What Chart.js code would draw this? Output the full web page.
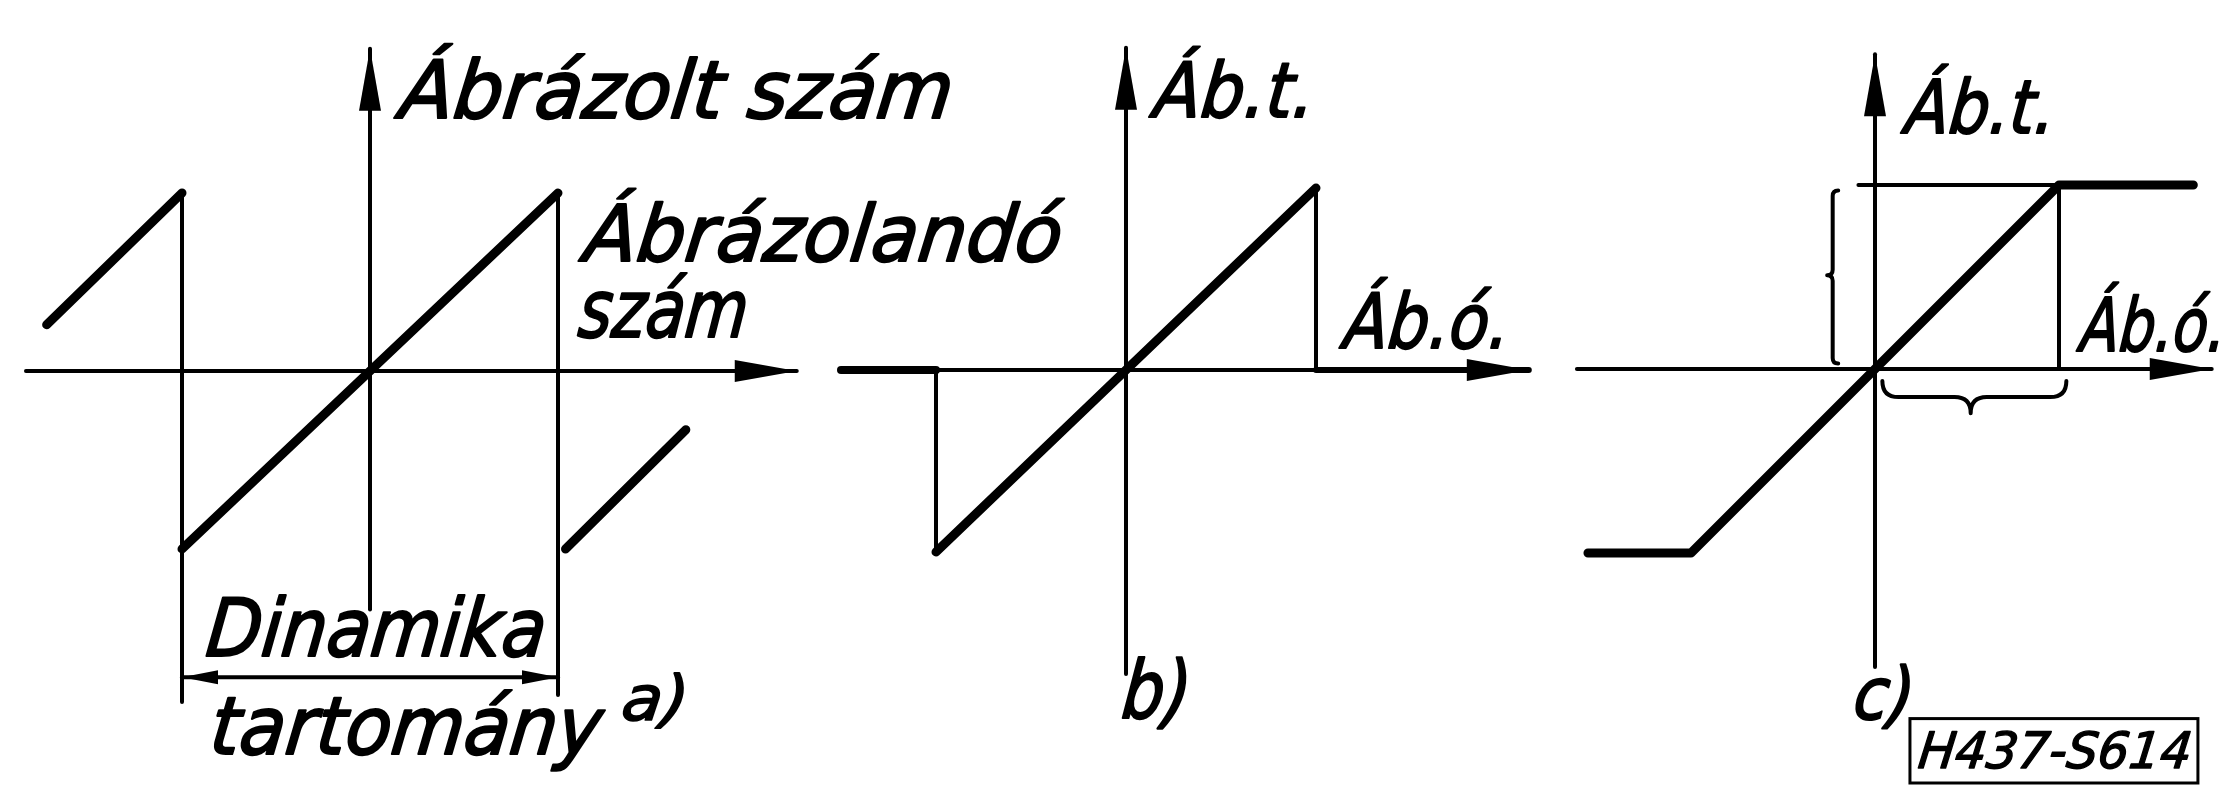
<!DOCTYPE html>
<html>
<head>
<meta charset="utf-8">
<title>Ábrázolt szám</title>
<script src="https://cdn.jsdelivr.net/npm/chart.js@4/dist/chart.umd.min.js"></script>
<style>
  body { margin: 0; background: #fff; }
  #sheet { position: relative; width: 2229px; height: 787px; overflow: hidden; background: #fff; }
  #sheet canvas { position: absolute; top: 0; }
</style>
</head>
<body>
<div id="sheet">
  <canvas id="panelA" width="1080" height="787" style="left:0px"></canvas>
  <canvas id="panelB" width="770" height="787" style="left:790px"></canvas>
  <canvas id="panelC" width="669" height="787" style="left:1560px"></canvas>
</div>
<script>
// ---- a) wrap-around (sawtooth) characteristic ----
const aAxisX = [{ x: -1.83, y: 0 }, { x: 2.27, y: 0 }];
const aAxisY = [{ x: 0, y: -1.34 }, { x: 0, y: 1.81 }];
const aWrapLeft = [{ x: -1.72, y: 0.26 }, { x: -1, y: 1 }];
const aRamp = [{ x: -1, y: -1 }, { x: 1, y: 1 }];
const aWrapRight = [{ x: 1.04, y: -1 }, { x: 1.68, y: -0.33 }];
const aEdgeLeft = [{ x: -1, y: 1 }, { x: -1, y: -1.86 }];
const aEdgeRight = [{ x: 1, y: 1 }, { x: 1, y: -1.82 }];
const aRange = [{ x: -1, y: -1.72 }, { x: 1, y: -1.72 }];
const aTexts = ['Ábrázolt szám', 'Ábrázolandó', 'szám', 'Dinamika', 'tartomány', 'a)'];

// ---- b) overflow falls back to zero ----
const bAxisX = [{ x: -1.5, y: 0 }, { x: 2.12, y: 0 }];
const bAxisY = [{ x: 0, y: -1.67 }, { x: 0, y: 1.77 }];
const bFlatLeft = [{ x: -1.5, y: 0 }, { x: -1, y: 0 }];
const bDrop = [{ x: -1, y: 0 }, { x: -1, y: -1 }];
const bRamp = [{ x: -1, y: -1 }, { x: 1, y: 1 }];
const bRise = [{ x: 1, y: 1 }, { x: 1, y: 0 }];
const bFlatRight = [{ x: 1, y: 0 }, { x: 2.12, y: 0 }];
const bTexts = ['Áb.t.', 'Áb.ó.', 'b)'];

// ---- c) saturating characteristic ----
const cAxisX = [{ x: -1.62, y: 0 }, { x: 1.83, y: 0 }];
const cAxisY = [{ x: 0, y: -1.62 }, { x: 0, y: 1.71 }];
const cClip = [{ x: -1.56, y: -1 }, { x: -1, y: -1 }, { x: 1, y: 1 }, { x: 1.73, y: 1 }];
const cGuideTop = [{ x: -0.09, y: 1 }, { x: 1, y: 1 }];
const cGuideRight = [{ x: 1, y: 1 }, { x: 1, y: 0 }];
const cBraceY = [{ x: -0.2, y: 0.03 }, { x: -0.2, y: 0.97 }, { x: -0.26, y: 0.51 }];
const cBraceX = [{ x: 0.04, y: -0.065 }, { x: 1.04, y: -0.065 }, { x: 0.52, y: -0.24 }];
const cTexts = ['Áb.t.', 'Áb.ó.', 'c)', 'H437-S614'];

const INK = '#000';
const FONT = '"DejaVu Sans", sans-serif';
const AXIS_HEAD = [62, 11];
const DIM_HEAD = [36, 7];
const SLANT = 0.12;

function seg(data, width, extra) {
  return Object.assign({
    data: data,
    showLine: true,
    borderColor: INK,
    backgroundColor: INK,
    borderWidth: width,
    pointRadius: 0,
    borderCapStyle: 'round',
    borderJoinStyle: 'round',
    fill: false,
    tension: 0,
    clip: false
  }, extra || {});
}

function head(ctx, from, to, size) {
  const ang = Math.atan2(to.y - from.y, to.x - from.x);
  ctx.save();
  ctx.translate(to.x, to.y);
  ctx.rotate(ang);
  ctx.beginPath();
  ctx.moveTo(0, 0);
  ctx.lineTo(-size[0], -size[1]);
  ctx.lineTo(-size[0], size[1]);
  ctx.closePath();
  ctx.fillStyle = INK;
  ctx.fill();
  ctx.restore();
}

// filled arrowheads on datasets flagged with arrowEnd / arrowStart
const arrowPlugin = {
  id: 'arrowHeads',
  afterDatasetsDraw(chart) {
    const ctx = chart.ctx;
    chart.data.datasets.forEach((ds, i) => {
      const pts = chart.getDatasetMeta(i).data;
      const n = pts.length;
      if (ds.arrowEnd) head(ctx, pts[n - 2], pts[n - 1], ds.arrowSize || AXIS_HEAD);
      if (ds.arrowStart) head(ctx, pts[1], pts[0], ds.arrowSize || AXIS_HEAD);
    });
  }
};

// curly brace between two points, cusp towards the third point
function brace(ctx, chart, pts) {
  const sx = chart.scales.x, sy = chart.scales.y;
  const A = { x: sx.getPixelForValue(pts[0].x), y: sy.getPixelForValue(pts[0].y) };
  const B = { x: sx.getPixelForValue(pts[1].x), y: sy.getPixelForValue(pts[1].y) };
  const T = { x: sx.getPixelForValue(pts[2].x), y: sy.getPixelForValue(pts[2].y) };
  const len = Math.hypot(B.x - A.x, B.y - A.y);
  const u = { x: (B.x - A.x) / len, y: (B.y - A.y) / len };
  let nrm = { x: -u.y, y: u.x };
  const tA = (T.x - A.x) * u.x + (T.y - A.y) * u.y;
  let depth = (T.x - A.x) * nrm.x + (T.y - A.y) * nrm.y;
  if (depth < 0) { nrm = { x: -nrm.x, y: -nrm.y }; depth = -depth; }
  const h = depth / 2;
  const P = (base, a, b) => ({ x: base.x + u.x * a + nrm.x * b, y: base.y + u.y * a + nrm.y * b });
  const M = P(A, tA, 0);
  ctx.save();
  ctx.strokeStyle = INK;
  ctx.lineWidth = 4;
  ctx.lineJoin = 'round';
  ctx.lineCap = 'round';
  ctx.beginPath();
  ctx.moveTo(A.x, A.y);
  let c = P(A, 0, h), e = P(A, h, h);
  ctx.quadraticCurveTo(c.x, c.y, e.x, e.y);
  e = P(M, -h, h); ctx.lineTo(e.x, e.y);
  c = P(M, 0, h); e = P(M, 0, depth);
  ctx.quadraticCurveTo(c.x, c.y, e.x, e.y);
  e = P(M, h, h);
  ctx.quadraticCurveTo(c.x, c.y, e.x, e.y);
  e = P(B, -h, h); ctx.lineTo(e.x, e.y);
  c = P(B, 0, h);
  ctx.quadraticCurveTo(c.x, c.y, B.x, B.y);
  ctx.stroke();
  ctx.restore();
}

// hand-lettered captions, placed in chart units, stretched to a set width
function captionPlugin(texts, spots, braces, stamp) {
  return {
    id: 'captions',
    afterDatasetsDraw(chart) {
      const ctx = chart.ctx;
      const sx = chart.scales.x, sy = chart.scales.y;
      (braces || []).forEach(b => brace(ctx, chart, b));
      if (stamp) {
        const x0 = sx.getPixelForValue(stamp.x0), x1 = sx.getPixelForValue(stamp.x1);
        const y0 = sy.getPixelForValue(stamp.y0), y1 = sy.getPixelForValue(stamp.y1);
        ctx.save();
        ctx.strokeStyle = INK;
        ctx.lineWidth = 3;
        ctx.strokeRect(x0, y0, x1 - x0, y1 - y0);
        ctx.restore();
      }
      texts.forEach((t, i) => {
        const s = spots[i];
        ctx.save();
        ctx.font = 'italic ' + s.size + 'px ' + FONT;
        ctx.fillStyle = INK;
        ctx.strokeStyle = INK;
        ctx.lineJoin = 'round';
        ctx.lineWidth = s.size / 36;
        ctx.textBaseline = 'alphabetic';
        ctx.textAlign = 'left';
        const m = ctx.measureText(t).width;
        ctx.translate(sx.getPixelForValue(s.x), sy.getPixelForValue(s.y));
        ctx.scale(s.w / m, 1);
        ctx.transform(1, 0, -SLANT, 1, 0, 0);
        ctx.fillText(t, 0, 0);
        ctx.strokeText(t, 0, 0);
        ctx.restore();
      });
    }
  };
}

function scalesFor(p) {
  return {
    x: { type: 'linear', display: false, min: -p.originX / p.unitX, max: (p.width - p.originX) / p.unitX },
    y: { type: 'linear', display: false, min: -(787 - p.originY) / p.unitY, max: p.originY / p.unitY }
  };
}

function panel(id, frame, datasets, plugin) {
  return new Chart(document.getElementById(id), {
    type: 'scatter',
    data: { datasets: datasets },
    options: {
      responsive: false,
      animation: false,
      events: [],
      layout: { padding: 0 },
      plugins: { legend: { display: false }, tooltip: { enabled: false } },
      scales: scalesFor(frame)
    },
    plugins: [arrowPlugin, plugin]
  });
}

const frameA = { width: 1080, originX: 370, originY: 371, unitX: 188, unitY: 178 };
const frameB = { width: 770, originX: 336, originY: 370, unitX: 190, unitY: 182 };
const frameC = { width: 669, originX: 315, originY: 369, unitX: 184, unitY: 184 };

panel('panelA', frameA, [
  seg(aAxisX, 4, { arrowEnd: true }),
  seg(aAxisY, 4, { arrowEnd: true }),
  seg(aEdgeLeft, 4),
  seg(aEdgeRight, 4),
  seg(aRange, 4, { arrowEnd: true, arrowStart: true, arrowSize: DIM_HEAD }),
  seg(aWrapLeft, 9),
  seg(aRamp, 9),
  seg(aWrapRight, 9)
], captionPlugin(aTexts, [
  { x: 0.15, y: 1.42, size: 80, w: 552 },
  { x: 1.13, y: 0.62, size: 78, w: 477 },
  { x: 1.10, y: 0.19, size: 80, w: 169 },
  { x: -0.88, y: -1.60, size: 80, w: 339 },
  { x: -0.86, y: -2.15, size: 80, w: 391 },
  { x: 1.33, y: -1.96, size: 62, w: 66 }
]));

panel('panelB', frameB, [
  seg(bAxisX, 4, { arrowEnd: true }),
  seg(bAxisY, 4, { arrowEnd: true }),
  seg(bDrop, 4),
  seg(bRise, 4),
  seg(bFlatLeft, 8),
  seg(bFlatRight, 6),
  seg(bRamp, 9)
], captionPlugin(bTexts, [
  { x: 0.14, y: 1.39, size: 76, w: 160 },
  { x: 1.14, y: 0.12, size: 76, w: 165 },
  { x: -0.03, y: -1.91, size: 80, w: 68 }
]));

panel('panelC', frameC, [
  seg(cAxisX, 4, { arrowEnd: true }),
  seg(cAxisY, 4, { arrowEnd: true }),
  seg(cGuideTop, 4),
  seg(cGuideRight, 4),
  seg(cClip, 9)
], captionPlugin(cTexts, [
  { x: 0.158, y: 1.28, size: 74, w: 149 },
  { x: 1.11, y: 0.10, size: 74, w: 145 },
  { x: -0.125, y: -1.90, size: 72, w: 60 },
  { x: 0.228, y: -2.17, size: 50, w: 273 }
], [cBraceY, cBraceX], { x0: 0.19, x1: 1.755, y0: -1.90, y1: -2.25 }));
</script>
</body>
</html>
